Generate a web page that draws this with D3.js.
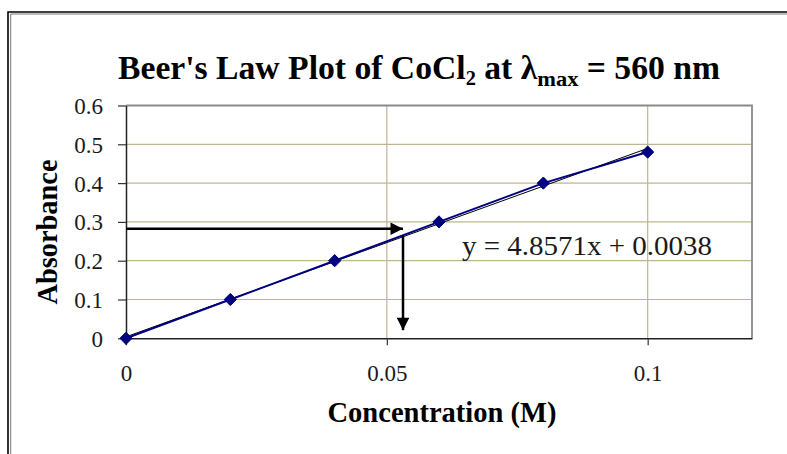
<!DOCTYPE html>
<html>
<head>
<meta charset="utf-8">
<script src="https://cdn.jsdelivr.net/npm/d3@7"></script>
<style>
  html, body { margin: 0; padding: 0; background: #fff; }
  svg { display: block; }
  text { font-family: "Liberation Serif", "Times New Roman", serif; }
</style>
</head>
<body>
<svg id="chart" width="787" height="454"></svg>
<script>
// ---- data ----
const concentration = [0, 0.02, 0.04, 0.06, 0.08, 0.1];
const absorbance = [0, 0.1, 0.2, 0.3, 0.4, 0.48];
const xTicks = [0, 0.05, 0.1];
const xTickLabels = ["0", "0.05", "0.1"];
const yTicks = [0, 0.1, 0.2, 0.3, 0.4, 0.5, 0.6];
const yTickLabels = ["0", "0.1", "0.2", "0.3", "0.4", "0.5", "0.6"];
const xGrid = [0.05, 0.1];
const yGrid = [0.1, 0.2, 0.3, 0.4, 0.5];
const trendSlope = 4.8571;
const trendIntercept = 0.0038;
const trendRange = [0, 0.1];
const equationText = "y = 4.8571x + 0.0038";
const readAbsorbance = 0.2825;
const readConcentration = 0.0531;
const readArrowEnd = 0.021;
const readArrowStartY = 0.266;

// ---- layout ----
const svg = d3.select("#chart");
const L = 126, R = 752, T = 105.5, B = 338.3;
const x = d3.scaleLinear().domain([0, 0.12]).range([L, R]);
const y = d3.scaleLinear().domain([0, 0.6]).range([B, T]);

// outer frame (double line)
svg.append("path").attr("d", "M8,460 V12 H800").attr("fill", "none").attr("stroke", "#000").attr("stroke-width", 1.6);
svg.append("path").attr("d", "M10.7,460 V14 H800").attr("fill", "none").attr("stroke", "#777").attr("stroke-width", 1);

// gridlines
svg.append("g").selectAll("line").data(yGrid).join("line")
  .attr("x1", L).attr("x2", R).attr("y1", d => y(d)).attr("y2", d => y(d))
  .attr("stroke", "#bfb68f").attr("stroke-width", 1.2);
svg.append("g").selectAll("line").data(xGrid).join("line")
  .attr("y1", T).attr("y2", B).attr("x1", d => x(d)).attr("x2", d => x(d))
  .attr("stroke", "#bfb68f").attr("stroke-width", 1.2);

// plot border top/right
svg.append("path").attr("d", `M${L},${T} H${R} V${B}`).attr("fill", "none")
  .attr("stroke", "#8a8a8a").attr("stroke-width", 1.8);

// axes
const xAxis = d3.axisBottom(x).tickValues(xTicks).tickFormat((d, i) => xTickLabels[i]).tickSizeOuter(0).tickSizeInner(7).tickPadding(22);
const yAxis = d3.axisLeft(y).tickValues(yTicks).tickFormat((d, i) => yTickLabels[i]).tickSizeOuter(0).tickSizeInner(8).tickPadding(15);
const gx = svg.append("g").attr("transform", `translate(0,${B})`).call(xAxis);
const gy = svg.append("g").attr("transform", `translate(${L},0)`).call(yAxis);
[gx, gy].forEach(g => {
  g.attr("font-family", "Liberation Serif, serif").attr("font-size", 23);
  g.select(".domain").attr("stroke", "#222").attr("stroke-width", 1.5);
  g.selectAll(".tick line").attr("stroke", "#333").attr("stroke-width", 1.2);
  g.selectAll(".tick text").attr("font-size", 23).attr("fill", "#1a1a1a");
});
gx.selectAll(".tick text").attr("dy", "0.6em");
gy.selectAll(".tick text").attr("dy", "0.35em");

// trendline
svg.append("line")
  .attr("x1", x(trendRange[0])).attr("y1", y(trendSlope * trendRange[0] + trendIntercept))
  .attr("x2", x(trendRange[1])).attr("y2", y(trendSlope * trendRange[1] + trendIntercept))
  .attr("stroke", "#000").attr("stroke-width", 1);

// data line
const pts = concentration.map((c, i) => [c, absorbance[i]]);
svg.append("path").datum(pts)
  .attr("d", d3.line().x(d => x(d[0])).y(d => y(d[1])))
  .attr("fill", "none").attr("stroke", "#000080").attr("stroke-width", 2);

// markers
svg.append("g").selectAll("path").data(pts).join("path")
  .attr("transform", d => `translate(${x(d[0])},${y(d[1])})`)
  .attr("d", d3.symbol().type(d3.symbolDiamond2).size(95))
  .attr("fill", "#000080").attr("stroke", "#000080").attr("stroke-width", 1);

// arrows
const defs = svg.append("defs");
defs.append("marker").attr("id", "ah").attr("viewBox", "0 0 10 10").attr("refX", 10).attr("refY", 5)
  .attr("markerWidth", 5.5).attr("markerHeight", 5).attr("markerUnits", "strokeWidth").attr("orient", "auto")
  .append("path").attr("d", "M0,0 L10,5 L0,10 Z").attr("fill", "#000");
svg.append("line")
  .attr("x1", x(0)).attr("y1", y(readAbsorbance)).attr("x2", x(readConcentration)).attr("y2", y(readAbsorbance))
  .attr("stroke", "#000").attr("stroke-width", 2.5).attr("marker-end", "url(#ah)");
svg.append("line")
  .attr("x1", x(readConcentration)).attr("y1", y(readArrowStartY)).attr("x2", x(readConcentration)).attr("y2", y(readArrowEnd))
  .attr("stroke", "#000").attr("stroke-width", 2.5).attr("marker-end", "url(#ah)");

// equation
svg.append("text").attr("x", 462).attr("y", 255).attr("font-size", 27).attr("fill", "#1a1a1a")
  .attr("textLength", 250).attr("lengthAdjust", "spacingAndGlyphs").text(equationText);

// title
const title = svg.append("text").attr("x", 118).attr("y", 79).attr("font-size", 33).attr("font-weight", "bold")
  .attr("textLength", 602).attr("lengthAdjust", "spacingAndGlyphs");
title.append("tspan").text("Beer's Law Plot of CoCl");
title.append("tspan").attr("font-size", 20).attr("dy", 6).text("2");
title.append("tspan").attr("dy", -6).text(" at λ");
title.append("tspan").attr("font-size", 22).attr("dy", 7).text("max");
title.append("tspan").attr("dy", -7).text(" = 560 nm");

// axis titles
svg.append("text").attr("x", 442).attr("y", 422).attr("text-anchor", "middle").attr("font-size", 29).attr("font-weight", "bold")
  .attr("textLength", 229).attr("lengthAdjust", "spacingAndGlyphs").text("Concentration (M)");
svg.append("text").attr("transform", "translate(57,232) rotate(-90)").attr("text-anchor", "middle").attr("font-size", 29).attr("font-weight", "bold")
  .attr("textLength", 145).attr("lengthAdjust", "spacingAndGlyphs").text("Absorbance");
</script>
</body>
</html>
